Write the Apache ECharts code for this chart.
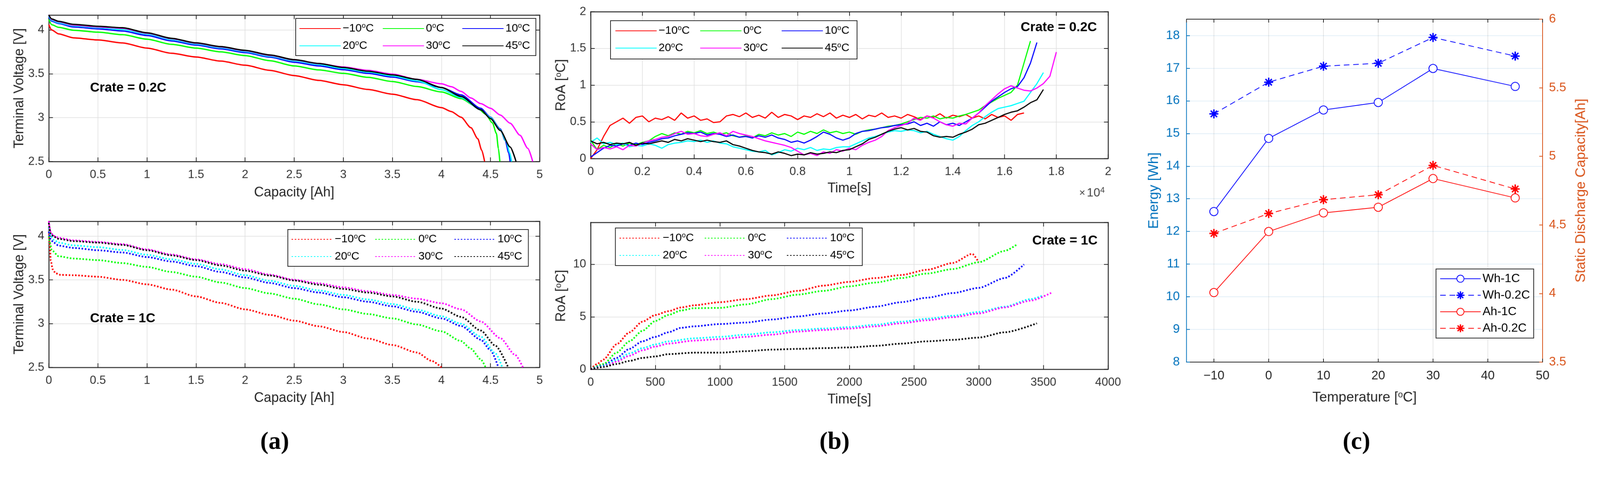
<!DOCTYPE html>
<html><head><meta charset="utf-8">
<script src="https://cdn.jsdelivr.net/npm/echarts@6/dist/echarts.min.js"></script>
<style>html,body{margin:0;padding:0;background:#fff;overflow:hidden}#wrap{position:absolute;left:0;top:0;width:4264px;height:1248px;transform-origin:0 0}#c{width:4264px;height:1248px}</style>
</head><body><div id="wrap"><div id="c"></div></div>
<script>
// ---------------- DATA ----------------
const tempLabels = ['−10','0','10','20','30','45'];
const curveColors = ['#FF0000','#00FF00','#0000FF','#00FFFF','#FF00FF','#000000'];

// (a) 0.2C : [capacity Ah, voltage V]
const a02_m10 = [[0,4.06],[0.03,4.0],[0.1,3.955],[0.25,3.91],[0.5,3.886],[0.75,3.852],[1.0,3.793],[1.25,3.734],[1.5,3.692],[1.75,3.645],[2.0,3.598],[2.25,3.54],[2.5,3.48],[2.75,3.425],[3.0,3.375],[3.25,3.322],[3.5,3.268],[3.75,3.205],[4.0,3.115],[4.1,3.07],[4.2,3.005],[4.3,2.886],[4.37,2.76],[4.41,2.63],[4.44,2.5]];
const a02_0 = [[0,4.12],[0.03,4.06],[0.1,4.03],[0.25,3.997],[0.5,3.975],[0.75,3.946],[1.0,3.895],[1.25,3.836],[1.5,3.793],[1.75,3.75],[2.0,3.708],[2.25,3.65],[2.5,3.59],[2.75,3.545],[3.0,3.505],[3.25,3.46],[3.5,3.412],[3.75,3.355],[4.0,3.293],[4.2,3.217],[4.35,3.13],[4.45,3.04],[4.52,2.94],[4.56,2.82],[4.58,2.65],[4.595,2.5]];
const a02_10 = [[0,4.15],[0.03,4.1],[0.1,4.073],[0.25,4.034],[0.5,4.013],[0.75,3.988],[1.0,3.937],[1.25,3.875],[1.5,3.827],[1.75,3.785],[2.0,3.742],[2.25,3.69],[2.5,3.632],[2.75,3.59],[3.0,3.547],[3.25,3.505],[3.5,3.463],[3.75,3.41],[4.0,3.344],[4.2,3.259],[4.4,3.107],[4.5,3.005],[4.6,2.87],[4.65,2.74],[4.685,2.6],[4.70,2.5]];
const a02_20 = [[0,4.16],[0.03,4.11],[0.1,4.081],[0.25,4.047],[0.5,4.025],[0.75,4.005],[1.0,3.954],[1.25,3.89],[1.5,3.839],[1.75,3.797],[2.0,3.754],[2.25,3.70],[2.5,3.649],[2.75,3.605],[3.0,3.561],[3.25,3.52],[3.5,3.476],[3.75,3.42],[4.0,3.32],[4.2,3.23],[4.4,3.09],[4.5,3.0],[4.6,2.86],[4.66,2.73],[4.695,2.6],[4.715,2.5]];
const a02_30 = [[0,4.17],[0.03,4.12],[0.1,4.093],[0.25,4.055],[0.5,4.034],[0.75,4.019],[1.0,3.963],[1.25,3.9],[1.5,3.849],[1.75,3.806],[2.0,3.763],[2.25,3.71],[2.5,3.658],[2.75,3.615],[3.0,3.578],[3.25,3.54],[3.5,3.497],[3.75,3.437],[4.0,3.386],[4.1,3.353],[4.2,3.30],[4.3,3.225],[4.4,3.16],[4.5,3.107],[4.6,3.03],[4.7,2.937],[4.8,2.80],[4.88,2.65],[4.93,2.5]];
const a02_45 = [[0,4.17],[0.03,4.125],[0.1,4.098],[0.25,4.064],[0.5,4.042],[0.75,4.025],[1.0,3.968],[1.25,3.905],[1.5,3.853],[1.75,3.81],[2.0,3.768],[2.25,3.715],[2.5,3.661],[2.75,3.618],[3.0,3.573],[3.25,3.53],[3.5,3.488],[3.75,3.437],[4.0,3.344],[4.2,3.242],[4.4,3.09],[4.5,2.99],[4.6,2.853],[4.7,2.666],[4.76,2.5]];

// (a) 1C : [capacity Ah, voltage V]
const a1_m10 = [[0,4.1],[0.01,3.9],[0.02,3.72],[0.04,3.62],[0.07,3.575],[0.12,3.557],[0.25,3.553],[0.5,3.536],[0.75,3.50],[1.0,3.449],[1.25,3.389],[1.5,3.311],[1.75,3.237],[2.0,3.163],[2.25,3.10],[2.5,3.034],[2.75,2.97],[3.0,2.904],[3.25,2.83],[3.5,2.756],[3.75,2.67],[3.9,2.574],[4.0,2.5]];
const a1_0 = [[0,4.0],[0.01,3.93],[0.03,3.839],[0.1,3.77],[0.25,3.744],[0.5,3.726],[0.75,3.692],[1.0,3.648],[1.25,3.59],[1.5,3.536],[1.75,3.47],[2.0,3.406],[2.25,3.345],[2.5,3.285],[2.75,3.22],[3.0,3.163],[3.25,3.11],[3.5,3.06],[3.75,2.99],[4.0,2.912],[4.2,2.80],[4.3,2.713],[4.4,2.592],[4.45,2.5]];
const a1_10 = [[0,4.05],[0.02,3.96],[0.05,3.926],[0.1,3.891],[0.25,3.865],[0.5,3.839],[0.75,3.813],[1.0,3.761],[1.25,3.71],[1.5,3.657],[1.75,3.59],[2.0,3.527],[2.25,3.465],[2.5,3.406],[2.75,3.355],[3.0,3.302],[3.25,3.25],[3.5,3.198],[3.75,3.135],[4.0,3.06],[4.2,2.973],[4.4,2.817],[4.5,2.696],[4.58,2.5]];
const a1_20 = [[0,4.1],[0.02,4.0],[0.05,3.96],[0.1,3.926],[0.25,3.894],[0.5,3.874],[0.75,3.842],[1.0,3.787],[1.25,3.735],[1.5,3.683],[1.75,3.62],[2.0,3.553],[2.25,3.49],[2.5,3.432],[2.75,3.38],[3.0,3.328],[3.25,3.276],[3.5,3.224],[3.75,3.16],[4.0,3.085],[4.2,2.999],[4.4,2.852],[4.55,2.661],[4.62,2.5]];
const a1_30 = [[0,4.17],[0.02,4.04],[0.05,4.003],[0.1,3.981],[0.25,3.952],[0.5,3.934],[0.75,3.908],[1.0,3.848],[1.25,3.79],[1.5,3.735],[1.75,3.68],[2.0,3.623],[2.25,3.56],[2.5,3.501],[2.75,3.46],[3.0,3.415],[3.25,3.37],[3.5,3.328],[3.75,3.285],[4.0,3.233],[4.2,3.163],[4.4,3.025],[4.6,2.834],[4.75,2.644],[4.83,2.5]];
const a1_45 = [[0,4.15],[0.02,4.03],[0.05,3.995],[0.1,3.969],[0.25,3.943],[0.5,3.926],[0.75,3.90],[1.0,3.839],[1.25,3.78],[1.5,3.726],[1.75,3.665],[2.0,3.605],[2.25,3.55],[2.5,3.493],[2.75,3.445],[3.0,3.397],[3.25,3.355],[3.5,3.311],[3.75,3.25],[4.0,3.172],[4.2,3.077],[4.4,2.921],[4.55,2.748],[4.68,2.5]];

// (b) 0.2C : RoA [°C] sampled every 250 s
const b02Step = 250;
const b02_m10 = [0.00,0.12,0.30,0.45,0.50,0.55,0.48,0.56,0.58,0.50,0.55,0.53,0.57,0.52,0.62,0.55,0.58,0.52,0.54,0.49,0.50,0.58,0.60,0.57,0.62,0.56,0.59,0.55,0.63,0.56,0.60,0.58,0.53,0.58,0.56,0.61,0.57,0.62,0.55,0.59,0.56,0.60,0.54,0.59,0.57,0.62,0.56,0.58,0.55,0.60,0.57,0.53,0.58,0.56,0.61,0.55,0.59,0.57,0.60,0.55,0.58,0.54,0.60,0.56,0.58,0.52,0.60,0.62];
const b02_0 = [0.25,0.12,0.18,0.15,0.20,0.17,0.21,0.19,0.22,0.24,0.30,0.34,0.31,0.35,0.33,0.37,0.35,0.38,0.34,0.36,0.33,0.35,0.31,0.29,0.31,0.28,0.33,0.31,0.35,0.32,0.34,0.30,0.36,0.33,0.37,0.34,0.39,0.35,0.37,0.34,0.36,0.33,0.37,0.39,0.40,0.42,0.44,0.45,0.47,0.50,0.53,0.56,0.55,0.58,0.54,0.56,0.55,0.58,0.60,0.63,0.66,0.72,0.77,0.82,0.86,0.90,1.0,1.3,1.6];
const b02_10 = [0.02,0.08,0.14,0.18,0.17,0.20,0.18,0.21,0.19,0.22,0.24,0.27,0.28,0.31,0.33,0.35,0.34,0.36,0.32,0.34,0.33,0.30,0.32,0.29,0.30,0.28,0.31,0.29,0.32,0.28,0.26,0.22,0.24,0.21,0.25,0.30,0.36,0.33,0.28,0.25,0.28,0.34,0.37,0.38,0.40,0.42,0.43,0.45,0.46,0.47,0.50,0.45,0.48,0.44,0.50,0.46,0.48,0.45,0.50,0.55,0.62,0.70,0.78,0.84,0.90,0.95,0.98,1.10,1.30,1.58];
const b02_20 = [0.22,0.28,0.20,0.22,0.19,0.21,0.16,0.18,0.17,0.20,0.18,0.14,0.19,0.21,0.22,0.24,0.23,0.25,0.22,0.24,0.21,0.20,0.16,0.14,0.12,0.10,0.09,0.11,0.05,0.08,0.12,0.10,0.14,0.12,0.15,0.11,0.13,0.12,0.15,0.16,0.16,0.20,0.24,0.28,0.30,0.33,0.36,0.38,0.37,0.39,0.38,0.35,0.37,0.33,0.30,0.27,0.25,0.30,0.38,0.45,0.50,0.57,0.63,0.68,0.70,0.72,0.75,0.78,0.90,1.02,1.17];
const b02_30 = [0.20,0.12,0.15,0.13,0.16,0.12,0.18,0.17,0.21,0.24,0.26,0.29,0.30,0.34,0.37,0.33,0.34,0.31,0.30,0.33,0.35,0.31,0.37,0.34,0.32,0.30,0.27,0.24,0.22,0.20,0.18,0.15,0.10,0.05,0.07,0.04,0.09,0.07,0.12,0.10,0.14,0.12,0.18,0.22,0.25,0.30,0.38,0.42,0.45,0.48,0.55,0.52,0.58,0.55,0.50,0.46,0.44,0.48,0.47,0.55,0.62,0.72,0.80,0.88,0.95,0.99,0.96,0.93,0.92,0.96,1.02,1.12,1.45];
const b02_45 = [0.24,0.20,0.22,0.19,0.21,0.20,0.22,0.18,0.21,0.20,0.22,0.24,0.22,0.26,0.24,0.27,0.25,0.23,0.25,0.23,0.22,0.24,0.19,0.17,0.14,0.11,0.09,0.08,0.06,0.09,0.07,0.04,0.06,0.05,0.08,0.06,0.07,0.09,0.08,0.11,0.12,0.16,0.20,0.26,0.29,0.33,0.37,0.40,0.42,0.39,0.41,0.37,0.36,0.31,0.29,0.30,0.29,0.33,0.36,0.40,0.46,0.48,0.52,0.56,0.60,0.63,0.65,0.70,0.76,0.80,0.94];

// (b) 1C : [time s, RoA °C]
const b1_m10 = [[0,0],[50,0.5],[100,0.93],[200,2.37],[300,3.52],[400,4.53],[500,5.17],[600,5.53],[700,5.89],[800,6.1],[1000,6.39],[1200,6.68],[1400,7.04],[1600,7.47],[1800,7.97],[2000,8.33],[2200,8.69],[2400,8.98],[2600,9.48],[2800,10.13],[2950,11.0],[3000,10.2]];
const b1_0 = [[0,0],[100,0.5],[200,1.58],[300,2.66],[400,3.66],[500,4.6],[600,5.17],[700,5.6],[800,5.82],[1000,5.85],[1200,6.18],[1400,6.68],[1600,7.11],[1800,7.47],[2000,7.9],[2200,8.26],[2400,8.69],[2600,9.12],[2800,9.55],[3000,10.2],[3200,11.28],[3300,11.93]];
const b1_10 = [[0,0],[100,0.36],[200,1.08],[300,1.94],[400,2.66],[500,3.09],[600,3.52],[700,3.95],[800,4.09],[1000,4.31],[1200,4.45],[1400,4.74],[1600,5.03],[1800,5.32],[2000,5.6],[2200,5.96],[2400,6.39],[2600,6.82],[2800,7.26],[3000,7.76],[3200,8.69],[3350,9.99]];
const b1_20 = [[0,0],[100,0.29],[200,0.86],[300,1.51],[400,2.01],[500,2.37],[600,2.66],[800,2.95],[1000,3.09],[1200,3.3],[1400,3.52],[1600,3.74],[1800,3.88],[2000,4.02],[2200,4.24],[2400,4.53],[2600,4.81],[2800,5.1],[3000,5.46],[3200,5.96],[3400,6.68],[3500,7.04]];
const b1_30 = [[0,0],[100,0.22],[200,0.72],[300,1.29],[400,1.8],[500,2.16],[600,2.44],[800,2.73],[1000,2.87],[1200,3.09],[1400,3.3],[1600,3.59],[1800,3.74],[2000,3.88],[2200,4.09],[2400,4.38],[2600,4.67],[2800,4.96],[3000,5.32],[3200,5.89],[3400,6.54],[3560,7.28]];
const b1_45 = [[0,0],[100,0.22],[200,0.5],[300,0.79],[400,1.08],[500,1.22],[600,1.44],[800,1.58],[1000,1.58],[1200,1.72],[1400,1.87],[1600,1.94],[1800,2.01],[2000,2.08],[2200,2.23],[2400,2.44],[2600,2.66],[2800,2.8],[3000,3.02],[3200,3.52],[3450,4.38]];

// (c)
const cTemps = [-10, 0, 10, 20, 30, 45];
const whC1  = [12.61, 14.85, 15.72, 15.95, 16.99, 16.44];
const whC02 = [15.60, 16.57, 17.06, 17.15, 17.94, 17.37];
const ahC1  = [4.007, 4.452, 4.588, 4.629, 4.838, 4.697];
const ahC02 = [4.438, 4.583, 4.684, 4.72, 4.934, 4.762];

// ---------------- STYLE ----------------
const FONT = 'Liberation Sans';
const INK = '#262626';
const GRAYGRID = '#dedede';
const BLUE_AX = '#0072BD';
const ORANGE_AX = '#D95319';
const SUP = {s:{fontSize:19,lineHeight:20,verticalAlign:'top',fontFamily:FONT}};

// fit the fixed-size figure into the actual viewport
(function(){
  const vw = window.innerWidth || 4264, vh = window.innerHeight || 1248;
  const s = Math.min(vw/4264, vh/1248);
  if (s < 0.999) document.getElementById('wrap').style.transform = 'scale(' + s + ')';
})();

function pairs(arr){ return arr.map((v,i)=>[i*b02Step, v]); }

const a02 = [a02_m10,a02_0,a02_10,a02_20,a02_30,a02_45];
const a1 = [a1_m10,a1_0,a1_10,a1_20,a1_30,a1_45];
const b02 = [b02_m10,b02_0,b02_10,b02_20,b02_30,b02_45].map(pairs);
const b1 = [b1_m10,b1_0,b1_10,b1_20,b1_30,b1_45];

const grids = [
  {left:130, top:40, width:1308, height:390},
  {left:130, top:589, width:1308, height:389},
  {left:1574, top:31, width:1379, height:391},
  {left:1574, top:592, width:1379, height:391},
  {left:3162, top:51, width:949, height:913}
];

function mainX(gi, min, max, interval, name, gap, fmt){
  return {type:'value', gridIndex:gi, position:'bottom', min, max, interval,
    name, nameLocation:'middle', nameGap:gap,
    nameTextStyle:{fontSize:36, color:INK, fontFamily:FONT},
    axisLine:{show:true,onZero:false,lineStyle:{color:INK,width:2.5}},
    axisTick:{show:true,inside:true,length:11,lineStyle:{color:INK,width:2}},
    splitLine:{show:true,lineStyle:{color:GRAYGRID,width:1.5}},
    axisLabel:{color:'#333',fontSize:31,fontFamily:FONT,margin:20,formatter:fmt || (v => String(v))}};
}
function mainY(gi, min, max, interval, name, gap, rich, showMax){
  return {type:'value', gridIndex:gi, position:'left', min, max, interval,
    name, nameLocation:'middle', nameGap:gap,
    nameTextStyle:{fontSize:36, color:INK, fontFamily:FONT, rich:rich},
    axisLine:{show:true,onZero:false,lineStyle:{color:INK,width:2.5}},
    axisTick:{show:true,inside:true,length:11,lineStyle:{color:INK,width:2}},
    splitLine:{show:true,lineStyle:{color:GRAYGRID,width:1.5}},
    axisLabel:{color:'#333',fontSize:31,fontFamily:FONT,margin:12,showMaxLabel:!!showMax}};
}
function mirrorX(gi, min, max, interval, color){
  return {type:'value', gridIndex:gi, position:'top', min, max, interval,
    axisLine:{show:true,onZero:false,lineStyle:{color:color,width:2.5}},
    axisTick:{show:true,inside:true,length:11,lineStyle:{color:color,width:2}},
    splitLine:{show:false}, axisLabel:{show:false}};
}
function mirrorY(gi, min, max, interval){
  return {type:'value', gridIndex:gi, position:'right', min, max, interval,
    axisLine:{show:true,onZero:false,lineStyle:{color:INK,width:2.5}},
    axisTick:{show:true,inside:true,length:11,lineStyle:{color:INK,width:2}},
    splitLine:{show:false}, axisLabel:{show:false}};
}
const minusFmt = v => (v < 0 ? '−' + Math.abs(v) : String(v));
const timeFmt = v => String(+(v/10000).toFixed(1));
const roaRich = {s:{fontSize:22,lineHeight:22,verticalAlign:'top',fontFamily:FONT,color:INK}};

const xAxis = [
  mainX(0,0,5,0.5,'Capacity [Ah]',65),
  mainX(1,0,5,0.5,'Capacity [Ah]',64),
  mainX(2,0,20000,2000,'Time[s]',62,timeFmt),
  mainX(3,0,4000,500,'Time[s]',63),
  {type:'value', gridIndex:4, position:'bottom', min:-15, max:50, splitNumber:6,
    name:'Temperature [{s|o}C]', nameLocation:'middle', nameGap:76,
    nameTextStyle:{fontSize:37,color:INK,fontFamily:FONT,rich:{s:{fontSize:23,lineHeight:24,verticalAlign:'top',fontFamily:FONT,color:INK}}},
    axisLine:{show:true,onZero:false,lineStyle:{color:INK,width:2}},
    axisTick:{show:true,inside:true,length:9,lineStyle:{color:INK,width:2}},
    splitLine:{show:true,lineStyle:{color:'rgba(38,38,38,0.15)',width:1.5}},
    axisLabel:{color:INK,fontSize:33,fontFamily:FONT,margin:20,showMinLabel:false,formatter:minusFmt}},
  mirrorX(0,0,5,0.5,INK),
  mirrorX(1,0,5,0.5,INK),
  mirrorX(2,0,20000,2000,INK),
  mirrorX(3,0,4000,500,INK),
  {type:'value', gridIndex:4, position:'top', min:-15, max:50, splitNumber:6,
    axisLine:{show:true,onZero:false,lineStyle:{color:INK,width:2}},
    axisTick:{show:true,inside:true,length:9,lineStyle:{color:INK,width:2}},
    splitLine:{show:false}, axisLabel:{show:false}}
];

const yAxis = [
  mainY(0,2.5,4.17,0.5,'Terminal Voltage [V]',60),
  mainY(1,2.5,4.17,0.5,'Terminal Voltage [V]',60),
  mainY(2,0,2,0.5,'RoA [{s|o}C]',60,roaRich,true),
  mainY(3,0,14,5,'RoA [{s|o}C]',60,roaRich),
  {type:'value', gridIndex:4, position:'left', min:8, max:18.5, interval:1,
    name:'Energy [Wh]', nameLocation:'middle', nameGap:68,
    nameTextStyle:{fontSize:37,color:BLUE_AX,fontFamily:FONT},
    axisLine:{show:true,onZero:false,lineStyle:{color:BLUE_AX,width:2}},
    axisTick:{show:true,inside:true,length:9,lineStyle:{color:BLUE_AX,width:2}},
    splitLine:{show:true,lineStyle:{color:'rgba(0,114,189,0.15)',width:1.5}},
    axisLabel:{color:BLUE_AX,fontSize:33,fontFamily:FONT,margin:18,showMaxLabel:false}},
  mirrorY(0,2.5,4.17,0.5),
  mirrorY(1,2.5,4.17,0.5),
  mirrorY(2,0,2,0.5),
  mirrorY(3,0,14,5),
  {type:'value', gridIndex:4, position:'right', min:3.5, max:6, interval:0.5,
    name:'Static Discharge Capacity[Ah]', nameLocation:'middle', nameGap:84,
    nameTextStyle:{fontSize:37,color:ORANGE_AX,fontFamily:FONT},
    axisLine:{show:true,onZero:false,lineStyle:{color:ORANGE_AX,width:2}},
    axisTick:{show:true,inside:true,length:9,lineStyle:{color:ORANGE_AX,width:2}},
    splitLine:{show:false},
    axisLabel:{color:ORANGE_AX,fontSize:33,fontFamily:FONT,margin:17}}
];

const series = [];
const groups = [
  {key:'a02', data:a02, gi:0, dotted:false, smooth:0.25, w:3.5},
  {key:'a1', data:a1, gi:1, dotted:true, smooth:0.25},
  {key:'b02', data:b02, gi:2, dotted:false, smooth:false, w:3},
  {key:'b1', data:b1, gi:3, dotted:true, smooth:0.25}
];
groups.forEach(g=>{
  g.data.forEach((d,i)=>{
    series.push({type:'line', name:g.key+' '+tempLabels[i], xAxisIndex:g.gi, yAxisIndex:g.gi,
      data:d, symbol:'none', showSymbol:false, smooth:g.smooth, smoothMonotone:'x',
      lineStyle: g.dotted ? {color:curveColors[i], width:4.5, type:[4,4.5], cap:'butt'} : {color:curveColors[i], width:g.w},
      itemStyle:{color:curveColors[i]}, z:2, animation:false});
  });
});

const ASTER = 'path://M-0.08,-1L0.08,-1L0.08,1L-0.08,1Z M-1,-0.08L1,-0.08L1,0.08L-1,0.08Z M-0.650,-0.763L0.763,0.650L0.650,0.763L-0.763,-0.650Z M-0.763,0.650L0.650,-0.763L0.763,-0.650L-0.650,0.763Z';
function cSeries(name, vals, yi, color, dashed, sym){
  return {type:'line', name, xAxisIndex:4, yAxisIndex:yi,
    data: cTemps.map((t,i)=>[t, vals[i]]),
    symbol: sym, symbolSize: 22, showSymbol:true,
    lineStyle:{color, width:2, type: dashed ? [15,10] : 'solid'},
    itemStyle:{color, borderColor:color, borderWidth:2}, z:3, animation:false};
}
series.push(cSeries('Wh-1C', whC1, 4, '#0000FF', false, 'emptyCircle'));
series.push(cSeries('Wh-0.2C', whC02, 4, '#0000FF', true, ASTER));
series.push(cSeries('Ah-1C', ahC1, 9, '#FF0000', false, 'emptyCircle'));
series.push(cSeries('Ah-0.2C', ahC02, 9, '#FF0000', true, ASTER));

// legends
const legends = [];
const legendPos = [
  {key:'a02', lefts:[797,1019,1231], top:59},
  {key:'a1', lefts:[776,999,1210], top:620},
  {key:'b02', lefts:[1639,1865,2082], top:65},
  {key:'b1', lefts:[1650,1877,2096], top:617}
];
legendPos.forEach(p=>{
  for (let c=0;c<3;c++){
    legends.push({orient:'vertical', left:p.lefts[c], top:p.top, padding:0,
      data:[p.key+' '+tempLabels[c], p.key+' '+tempLabels[c+3]],
      itemWidth:110, itemHeight:20, itemGap:12, selectedMode:false,
      itemStyle:{opacity:0},
      formatter: n => n.split(' ')[1] + '{s|o}C',
      textStyle:{fontSize:30, lineHeight:34, color:'#000', fontFamily:FONT, rich:SUP}, z:6});
  }
});
legends.push({orient:'vertical', left:3827, top:716, padding:[10,10,10,10],
  data:['Wh-1C','Wh-0.2C','Ah-1C','Ah-0.2C'], itemWidth:108, itemHeight:24, itemGap:12,
  selectedMode:false, backgroundColor:'#fff', borderColor:INK, borderWidth:2,
  textStyle:{fontSize:32, lineHeight:32, color:'#000', fontFamily:FONT}, z:6});

const boxes = [[788,49,640,99],[767,611,641,98],[1627,55,657,102],[1640,607,658,100]];
const graphic = boxes.map(b=>({type:'rect', z:5, shape:{x:b[0],y:b[1],width:b[2],height:b[3]},
  style:{fill:'#fff', stroke:INK, lineWidth:2}}));
function label(text, x, y, size, weight, family, align){
  return {type:'text', x, y, z:7, style:{text, fontSize:size, fontWeight:weight||'normal',
    fontFamily:family||FONT, fill:'#000', align:align||'left', verticalAlign:'middle'}};
}
graphic.push(label('Crate = 0.2C', 240, 234, 35, 'bold'));
graphic.push(label('Crate = 1C', 240, 848, 35, 'bold'));
graphic.push(label('Crate = 0.2C', 2720, 73, 35, 'bold'));
graphic.push(label('Crate = 1C', 2751, 641, 35, 'bold'));
graphic.push(label('(a)', 732, 1178, 66, 'bold', 'Liberation Serif', 'center'));
graphic.push(label('(b)', 2224, 1178, 66, 'bold', 'Liberation Serif', 'center'));
graphic.push(label('(c)', 3615, 1178, 66, 'bold', 'Liberation Serif', 'center'));
graphic.push({type:'text', x:2876, y:514, z:7, style:{text:'{a|×}{b|10}{c|4}', verticalAlign:'middle', align:'left',
  rich:{a:{fontSize:28,fontFamily:FONT,fill:'#444',lineHeight:36,padding:[0,4,0,0]},
        b:{fontSize:32,fontFamily:FONT,fill:'#444',lineHeight:36},
        c:{fontSize:22,fontFamily:FONT,fill:'#444',lineHeight:20,verticalAlign:'top'}}}});

const chart = echarts.init(document.getElementById('c'), null, {renderer:'canvas', width:4264, height:1248});
chart.setOption({
  backgroundColor:'#fff', animation:false,
  grid: grids, xAxis, yAxis, series, legend: legends, graphic
});
</script>
</body></html>
